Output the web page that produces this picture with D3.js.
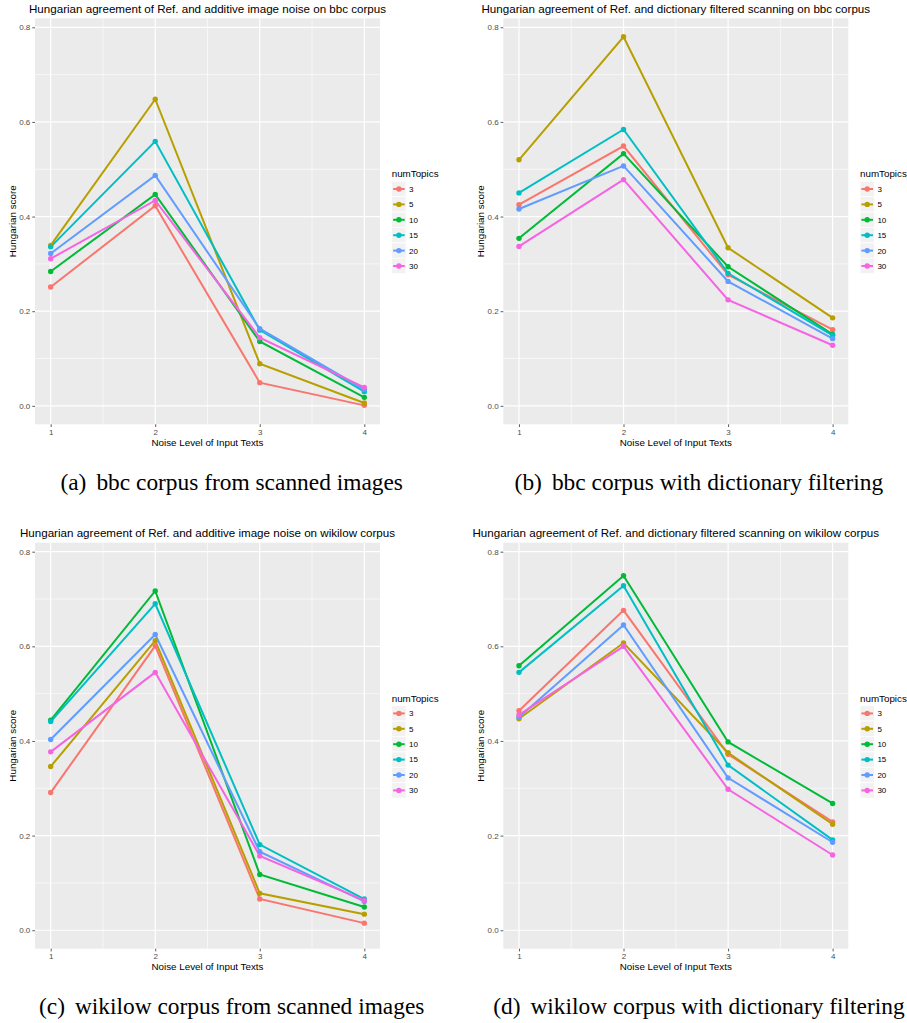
<!DOCTYPE html>
<html lang="en">
<head>
    <meta charset="UTF-8">
    <title>Hungarian agreement</title>
    <script src="https://d3js.org/d3.v7.min.js"></script>
    <style>
        body {
            margin: 0;
            padding: 0;
            background-color: #ffffff;
        }

        .plot-title {
            font-family: "Liberation Sans", Arial, sans-serif;
            font-size: 11.6px;
            fill: #000;
            text-anchor: middle;
        }

        .axis-title {
            font-family: "Liberation Sans", Arial, sans-serif;
            font-size: 9.8px;
            fill: #000;
            text-anchor: middle;
        }

        .tick-label {
            font-family: "Liberation Sans", Arial, sans-serif;
            font-size: 8px;
            fill: #4d4d4d;
        }

        .legend-text {
            font-family: "Liberation Sans", Arial, sans-serif;
            font-size: 8px;
            fill: #000;
        }

        .legend-title {
            font-family: "Liberation Sans", Arial, sans-serif;
            font-size: 9.8px;
            fill: #000;
        }

        .caption {
            font-family: "Liberation Serif", "Times New Roman", serif;
            font-size: 23.4px;
            fill: #000;
            text-anchor: middle;
        }
    </style>
</head>
<body>
    <div id="chart"></div>
    <script>
        // Data
        const noiseLevels = [1, 2, 3, 4];
        const numTopics = ["3", "5", "10", "15", "20", "30"];
        const topicColors = ["#F8766D", "#B79F00", "#00BA38", "#00BFC4", "#619CFF", "#F564E3"];
        const yTicks = [0, 0.2, 0.4, 0.6, 0.8];
        const yMinorTicks = [0.1, 0.3, 0.5, 0.7];
        const xMinorTicks = [1.5, 2.5, 3.5];

        // one row per numTopics value, one column per noise level
        const bbcScanned = [
            [0.251, 0.423, 0.049, 0.001],
            [0.339, 0.648, 0.089, 0.006],
            [0.284, 0.447, 0.136, 0.018],
            [0.336, 0.559, 0.160, 0.030],
            [0.322, 0.487, 0.163, 0.035],
            [0.311, 0.434, 0.144, 0.039]
        ];
        const bbcDictionary = [
            [0.425, 0.549, 0.277, 0.161],
            [0.520, 0.780, 0.334, 0.186],
            [0.354, 0.533, 0.294, 0.151],
            [0.450, 0.584, 0.280, 0.149],
            [0.416, 0.507, 0.263, 0.142],
            [0.337, 0.478, 0.224, 0.128]
        ];
        const wikilowScanned = [
            [0.291, 0.601, 0.066, 0.015],
            [0.346, 0.612, 0.078, 0.034],
            [0.444, 0.717, 0.118, 0.049],
            [0.441, 0.690, 0.181, 0.066],
            [0.403, 0.625, 0.166, 0.061],
            [0.377, 0.545, 0.157, 0.063]
        ];
        const wikilowDictionary = [
            [0.464, 0.676, 0.372, 0.229],
            [0.447, 0.607, 0.375, 0.224],
            [0.559, 0.749, 0.398, 0.268],
            [0.545, 0.728, 0.349, 0.191],
            [0.450, 0.645, 0.322, 0.186],
            [0.455, 0.600, 0.298, 0.159]
        ];

        const plotTitles = [
            "Hungarian agreement of Ref. and additive image noise on bbc corpus",
            "Hungarian agreement of Ref. and dictionary filtered scanning on bbc corpus",
            "Hungarian agreement of Ref. and additive image noise on wikilow corpus",
            "Hungarian agreement of Ref. and dictionary filtered scanning on wikilow corpus"
        ];
        const captionTags = ["(a)", "(b)", "(c)", "(d)"];
        const captionTexts = [
            "bbc corpus from scanned images",
            "bbc corpus with dictionary filtering",
            "wikilow corpus from scanned images",
            "wikilow corpus with dictionary filtering"
        ];
        const panelData = [bbcScanned, bbcDictionary, wikilowScanned, wikilowDictionary];

        const width = 907;
        const height = 1023;

        // geometry of one ggplot panel, relative to its cell
        const colStep = 468.3;
        const rowStep = 524.4;
        const plot = { left: 35, right: 380, top: 18.3, bottom: 424.3 };
        const captionX = [231.7, 230.6];

        const svg = d3.select("#chart")
            .append("svg")
            .attr("width", width)
            .attr("height", height)
            .attr("viewBox", `0 0 ${width} ${height}`);

        svg.append("rect")
            .attr("width", width)
            .attr("height", height)
            .attr("fill", "#ffffff");

        function drawPanel(i) {
            const col = i % 2;
            const row = Math.floor(i / 2);
            const g = svg.append("g")
                .attr("transform", `translate(${col * colStep},${row * rowStep})`);

            const x = d3.scaleLinear().domain([0.85, 4.15]).range([plot.left, plot.right]);
            const y = d3.scaleLinear().domain([-0.039, 0.819]).range([plot.bottom, plot.top]);

            // panel background
            g.append("rect")
                .attr("x", plot.left)
                .attr("y", plot.top)
                .attr("width", plot.right - plot.left)
                .attr("height", plot.bottom - plot.top)
                .attr("fill", "#EBEBEB");

            // minor grid
            g.selectAll(".ygrid-minor")
                .data(yMinorTicks)
                .enter()
                .append("line")
                .attr("x1", plot.left).attr("x2", plot.right)
                .attr("y1", d => y(d)).attr("y2", d => y(d))
                .attr("stroke", "#ffffff").attr("stroke-width", 0.6);
            g.selectAll(".xgrid-minor")
                .data(xMinorTicks)
                .enter()
                .append("line")
                .attr("y1", plot.top).attr("y2", plot.bottom)
                .attr("x1", d => x(d)).attr("x2", d => x(d))
                .attr("stroke", "#ffffff").attr("stroke-width", 0.6);

            // major grid
            g.selectAll(".ygrid")
                .data(yTicks)
                .enter()
                .append("line")
                .attr("x1", plot.left).attr("x2", plot.right)
                .attr("y1", d => y(d)).attr("y2", d => y(d))
                .attr("stroke", "#ffffff").attr("stroke-width", 1.2);
            g.selectAll(".xgrid")
                .data(noiseLevels)
                .enter()
                .append("line")
                .attr("y1", plot.top).attr("y2", plot.bottom)
                .attr("x1", d => x(d)).attr("x2", d => x(d))
                .attr("stroke", "#ffffff").attr("stroke-width", 1.2);

            // axes
            const yAxis = d3.axisLeft(y).tickValues(yTicks).tickFormat(d3.format(".1f")).tickSize(2.7).tickPadding(2);
            const xAxis = d3.axisBottom(x).tickValues(noiseLevels).tickFormat(d3.format("d")).tickSize(2.7).tickPadding(2);

            const ya = g.append("g")
                .attr("transform", `translate(${plot.left},0)`)
                .call(yAxis);
            const xa = g.append("g")
                .attr("transform", `translate(0,${plot.bottom})`)
                .call(xAxis);
            [ya, xa].forEach(a => {
                a.select(".domain").remove();
                a.selectAll(".tick line").attr("stroke", "#333333").attr("stroke-width", 0.8);
                a.selectAll(".tick text").attr("class", "tick-label").attr("font-size", null).attr("font-family", null).attr("fill", null);
            });

            // lines and points per numTopics
            const line = d3.line()
                .x((d, j) => x(noiseLevels[j]))
                .y(d => y(d));

            const series = panelData[i];
            series.forEach((vals, k) => {
                g.append("path")
                    .datum(vals)
                    .attr("d", line)
                    .attr("fill", "none")
                    .attr("stroke", topicColors[k])
                    .attr("stroke-width", 2);
            });
            series.forEach((vals, k) => {
                g.selectAll(".pt" + k)
                    .data(vals)
                    .enter()
                    .append("circle")
                    .attr("cx", (d, j) => x(noiseLevels[j]))
                    .attr("cy", d => y(d))
                    .attr("r", 2.7)
                    .attr("fill", topicColors[k]);
            });

            // titles
            const mid = (plot.left + plot.right) / 2;
            g.append("text")
                .attr("class", "plot-title")
                .attr("x", mid)
                .attr("y", 13)
                .text(plotTitles[i]);

            g.append("text")
                .attr("class", "axis-title")
                .attr("x", mid)
                .attr("y", 446)
                .text("Noise Level of Input Texts");

            g.append("text")
                .attr("class", "axis-title")
                .attr("transform", `translate(15.6,${(plot.top + plot.bottom) / 2}) rotate(-90)`)
                .text("Hungarian score");

            // legend
            const lg = g.append("g").attr("transform", "translate(391.7,0)");
            lg.append("text")
                .attr("class", "legend-title")
                .attr("x", 0)
                .attr("y", 177.3)
                .text("numTopics");

            const keyTop = 181.3;
            const keyH = 15.4;
            const keyW = 14.4;
            numTopics.forEach((t, k) => {
                const ky = keyTop + k * keyH;
                lg.append("rect")
                    .attr("x", 0).attr("y", ky)
                    .attr("width", keyW).attr("height", keyH)
                    .attr("fill", "#F2F2F2")
                    .attr("stroke", "#ffffff")
                    .attr("stroke-width", 0.8);
                lg.append("line")
                    .attr("x1", 1.4).attr("x2", keyW - 1.4)
                    .attr("y1", ky + keyH / 2).attr("y2", ky + keyH / 2)
                    .attr("stroke", topicColors[k])
                    .attr("stroke-width", 2);
                lg.append("circle")
                    .attr("cx", keyW / 2).attr("cy", ky + keyH / 2)
                    .attr("r", 2.7)
                    .attr("fill", topicColors[k]);
                lg.append("text")
                    .attr("class", "legend-text")
                    .attr("x", keyW + 3)
                    .attr("y", ky + keyH / 2 + 2.9)
                    .text(t);
            });

            // subfigure caption
            const cap = g.append("text")
                .attr("class", "caption")
                .attr("x", captionX[col])
                .attr("y", 489.5);
            cap.append("tspan").text(captionTags[i]);
            cap.append("tspan").attr("dx", 10).text(captionTexts[i]);
        }

        for (let i = 0; i < 4; i++) {
            drawPanel(i);
        }
    </script>
</body>
</html>
